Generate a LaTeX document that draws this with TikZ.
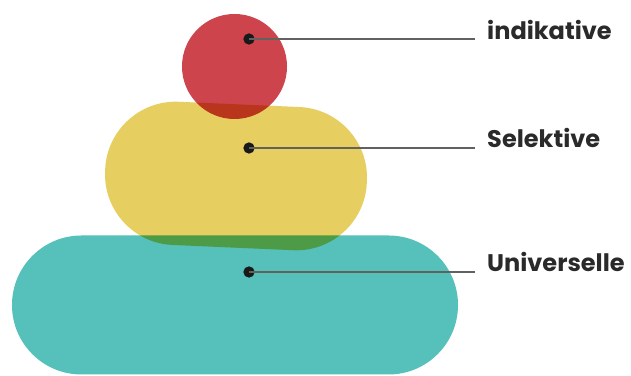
\documentclass[tikz,border=0pt]{standalone}
\usepackage{fontspec}
\setsansfont{Poppins}
\usetikzlibrary{shapes.misc}

\definecolor{redlvl}{RGB}{205,68,76}
\definecolor{yellowlvl}{RGB}{231,206,96}
\definecolor{teallvl}{RGB}{86,192,186}
\definecolor{inkgrey}{RGB}{42,42,42}

\begin{document}
\begin{tikzpicture}[
  x=0.03cm, y=-0.03cm,
  font=\sffamily\bfseries,
  level/.style={draw=none, blend mode=multiply, inner sep=0pt},
  dotmark/.style={circle, fill=black!90, inner sep=0pt, minimum size=0.34cm},
  lvllabel/.style={anchor=base west, inner xsep=0.36cm, inner ysep=0pt,
                   text=inkgrey, font=\fontsize{20.5}{24}\selectfont\sffamily\bfseries},
  leader/.style={draw=black!62, line width=0.9pt},
]

% --- fixed bounding box (white background) ---
\fill[white] (0,0) rectangle (631,376);
\useasboundingbox (0,0) rectangle (631,376);

% ============================ LEVELS ================================
\node[level, rounded rectangle, fill=teallvl, minimum width=13.38cm,
      minimum height=4.17cm] (univ) at (235,305) {};
\node[level, rectangle, rounded corners=2.12cm, fill=yellowlvl,
      minimum width=7.86cm, minimum height=4.3cm, rotate=-2.5] (sel)
  at (236,176) {};
\node[level, circle, fill=redlvl, minimum size=3.15cm] (ind)
  at (234.5,66.5) {};

% ============================ MARKERS ===============================
\node[dotmark] (dotI) at (249,39) {};
\node[dotmark] (dotS) at (249,148) {};
\node[dotmark] (dotU) at (249,272) {};

% ============================ LABELS ================================
\node[lvllabel] (labI) at (475,40) {indikative};
\node[lvllabel] (labS) at (475,148) {Selektive};
\node[lvllabel] (labU) at (475,272) {Universelle};

% ============================ LEADERS ===============================
\draw[leader] (dotI.center) -- (dotI.center -| labI.west);
\draw[leader] (dotS.center) -- (dotS.center -| labS.west);
\draw[leader] (dotU.center) -- (dotU.center -| labU.west);

\end{tikzpicture}
\end{document}
